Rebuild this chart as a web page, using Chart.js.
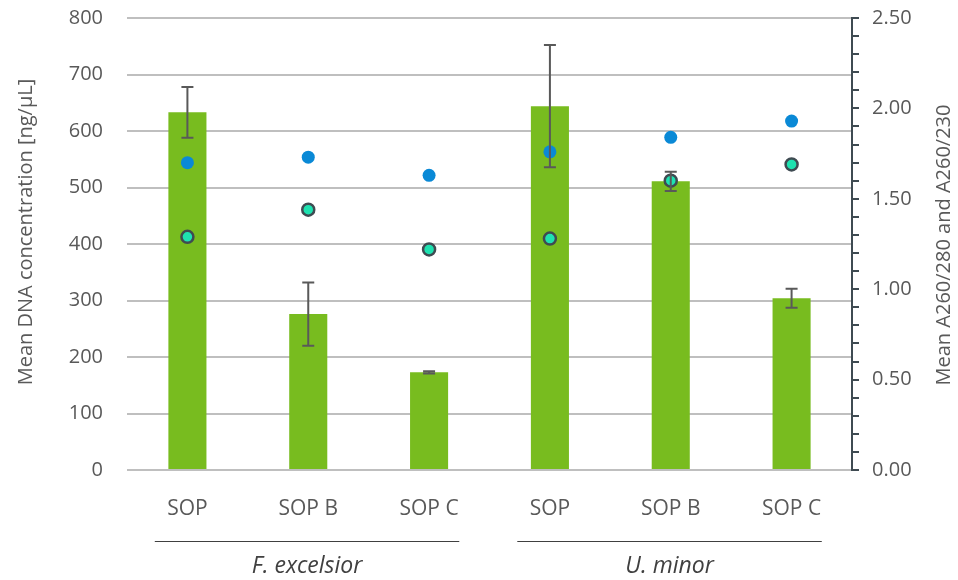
<!DOCTYPE html>
<html>
<head>
<meta charset="utf-8">
<script src="https://cdn.jsdelivr.net/npm/chart.js@4"></script>
<style>
  html, body { margin: 0; padding: 0; background: #fff; }
  #wrap { width: 958px; height: 580px; }
</style>
</head>
<body>
<div id="wrap"><canvas id="chart" width="958" height="580"></canvas></div>
<script>
// categories and groups
const categories = ['SOP', 'SOP B', 'SOP C', 'SOP', 'SOP B', 'SOP C'];
const groups = [
    { label: 'F. excelsior', from: 0, to: 2 },
    { label: 'U. minor', from: 3, to: 5 }
];

// mean DNA concentration (left axis) and its error
const dnaConc = [633, 276, 173, 644, 511, 304];
const dnaErr = [45, 56, 2, 108, 17, 17];

// ratios (right axis)
const ratio260_280 = [1.70, 1.73, 1.63, 1.76, 1.84, 1.93];
const ratio260_230 = [1.29, 1.44, 1.22, 1.28, 1.60, 1.69];

const leftTitle = 'Mean DNA concentration [ng/µL]';
const rightTitle = 'Mean A260/280 and A260/230';

const FONT = '"Open Sans", "Noto Sans", sans-serif';
const textGray = '#595959';

// error bars drawn on the bar dataset
const errorBars = {
    id: 'errorBars',
    afterDatasetsDraw(chart) {
        const ctx = chart.ctx;
        const x = chart.scales.x;
        const y = chart.scales.y;
        ctx.save();
        ctx.strokeStyle = '#595959';
        ctx.lineWidth = 2;
        dnaConc.forEach((v, i) => {
            const px = x.getPixelForValue(i);
            const top = y.getPixelForValue(v + dnaErr[i]);
            const bot = y.getPixelForValue(v - dnaErr[i]);
            ctx.beginPath();
            ctx.moveTo(px, top); ctx.lineTo(px, bot);
            ctx.moveTo(px - 6, top); ctx.lineTo(px + 6, top);
            ctx.moveTo(px - 6, bot); ctx.lineTo(px + 6, bot);
            ctx.stroke();
        });
        ctx.restore();
    }
};

// group lines, italic names and both axis titles (both read bottom-up)
const extraText = {
    id: 'extraText',
    afterDraw(chart) {
        const ctx = chart.ctx;
        const x = chart.scales.x;
        const step = x.getPixelForValue(1) - x.getPixelForValue(0);
        ctx.save();
        groups.forEach(g => {
            const left = x.getPixelForValue(g.from) - step * 0.27;
            const right = x.getPixelForValue(g.to) + step * 0.25;
            ctx.strokeStyle = '#404040';
            ctx.lineWidth = 1;
            ctx.beginPath();
            ctx.moveTo(left, 541.5); ctx.lineTo(right, 541.5);
            ctx.stroke();
            ctx.fillStyle = '#404040';
            ctx.font = 'italic 23px ' + FONT;
            ctx.textAlign = 'center';
            ctx.textBaseline = 'middle';
            ctx.fillText(g.label, (left + right) / 2, 566);
        });

        ctx.fillStyle = textGray;
        ctx.font = '20px ' + FONT;
        ctx.textAlign = 'center';
        ctx.textBaseline = 'middle';
        [[leftTitle, 26, 232], [rightTitle, 944, 245]].forEach(([t, tx, ty]) => {
            ctx.save();
            ctx.translate(tx, ty);
            ctx.rotate(-Math.PI / 2);
            ctx.fillText(t, 0, 0);
            ctx.restore();
        });
        ctx.restore();
    }
};

new Chart(document.getElementById('chart'), {
    data: {
        labels: categories,
        datasets: [
            {
                type: 'line',
                label: 'A260/280',
                data: ratio260_280,
                yAxisID: 'y1',
                showLine: false,
                pointRadius: 6.5,
                pointBackgroundColor: '#0a89d6',
                pointBorderColor: '#0a89d6',
                pointBorderWidth: 0,
                order: 1
            },
            {
                type: 'line',
                label: 'A260/230',
                data: ratio260_230,
                yAxisID: 'y1',
                showLine: false,
                pointRadius: 6,
                pointBackgroundColor: '#1ee2b0',
                pointBorderColor: '#3f4b52',
                pointBorderWidth: 2.5,
                order: 0
            },
            {
                type: 'bar',
                label: 'DNA concentration',
                data: dnaConc,
                yAxisID: 'y',
                backgroundColor: '#78bc1f',
                categoryPercentage: 1,
                barPercentage: 0.315,
                order: 2
            }
        ]
    },
    options: {
        responsive: false,
        animation: false,
        layout: { padding: { top: 18, right: 0, bottom: 0, left: 0 } },
        plugins: {
            legend: { display: false },
            tooltip: { enabled: false }
        },
        scales: {
            x: {
                offset: true,
                grid: { display: false },
                border: { display: false },
                ticks: { color: textGray, font: { family: FONT, size: 21 }, padding: 18 },
                afterFit(s) { s.height = 110; s.paddingLeft = 0; s.paddingRight = 0; }
            },
            y: {
                position: 'left',
                min: 0, max: 800,
                ticks: { stepSize: 100, color: textGray, font: { family: FONT, size: 20 }, padding: 24 },
                grid: { color: '#bfbfbf', lineWidth: 2, drawTicks: false },
                border: { display: false },
                afterFit(s) { s.width = 127; s.paddingTop = 0; s.paddingBottom = 0; }
            },
            y1: {
                position: 'right',
                min: 0, max: 2.5,
                ticks: {
                    stepSize: 0.1,
                    autoSkip: false,
                    color: textGray,
                    font: { family: FONT, size: 20 },
                    padding: 13,
                    callback: v => (Math.abs(v * 2 - Math.round(v * 2)) < 1e-6 ? v.toFixed(2) : '')
                },
                grid: { drawOnChartArea: false, color: '#3f4b52', lineWidth: 2, tickLength: 7 },
                border: { display: true, color: '#3f4b52', width: 2 },
                afterFit(s) { s.width = 106; s.paddingTop = 0; s.paddingBottom = 0; }
            }
        }
    },
    plugins: [errorBars, extraText]
});
</script>
</body>
</html>
